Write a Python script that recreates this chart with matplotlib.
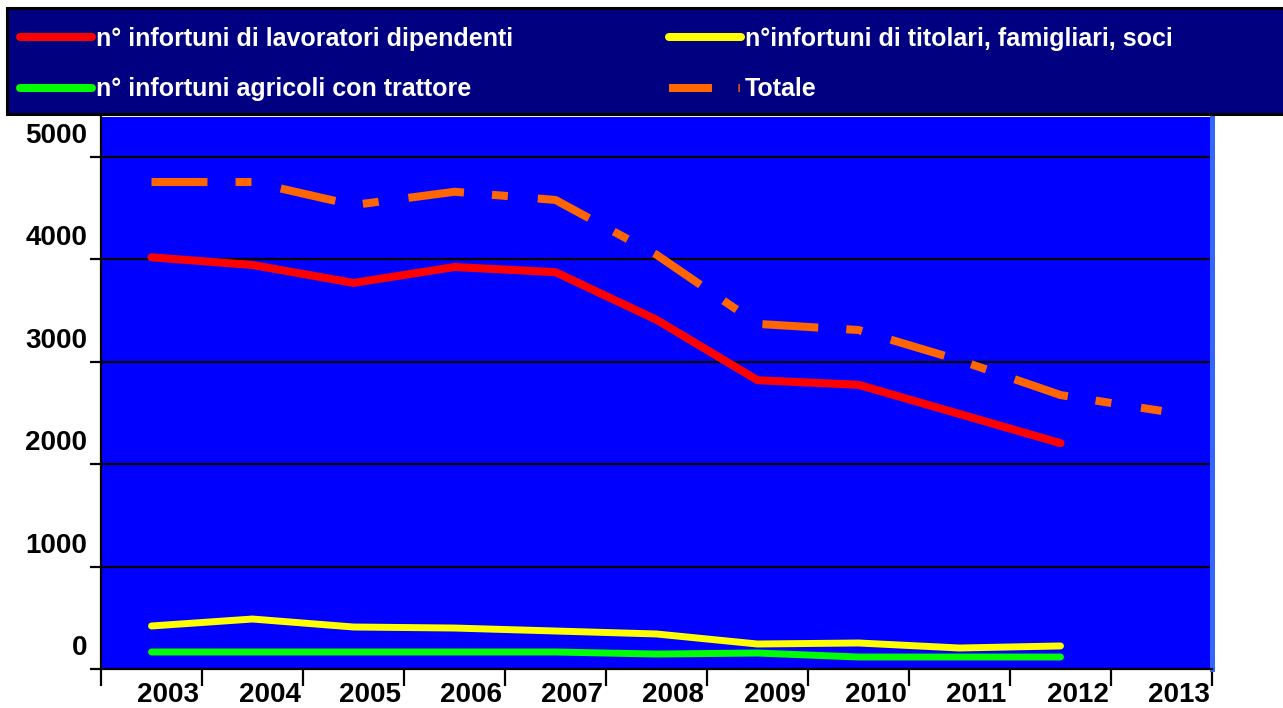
import numpy as np
import matplotlib
matplotlib.use('Agg')
import matplotlib.pyplot as plt
from matplotlib.lines import Line2D
from matplotlib.patches import Rectangle

# ── data ──────────────────────────────────────────────────────────────────────
years      = ['2003', '2004', '2005', '2006', '2007', '2008',
              '2009', '2010', '2011', '2012', '2013']
dipendenti = [4020, 3945, 3770, 3925, 3875, 3410, 2820, 2775, 2490, 2205]
titolari   = [420, 488, 410, 400, 371, 342, 244, 254, 205, 225]
trattore   = [166, 166, 166, 166, 166, 146, 156, 117, 117, 117]
totale     = [4755, 4755, 4530, 4660, 4580, 4045, 3370, 3310, 3015, 2675, 2520]

y_ticks  = [0, 1000, 2000, 3000, 4000, 5000]
y_labels = ['0', '1000', '2000', '3000', '4000', '5000']

# ── colours ───────────────────────────────────────────────────────────────────
BG_PLOT   = '#0000FF'
BG_LEGEND = '#000080'
RED       = '#FF0000'
YELLOW    = '#FFFF00'
GREEN     = '#00FF00'
ORANGE    = '#FF6600'
EDGE_LT   = '#3366FF'

plt.rcParams['lines.scale_dashes'] = False

fig = plt.figure(figsize=(12.83, 7.08), dpi=100)
ax = fig.add_axes([101 / 1283, 1 - 669 / 708, 1111 / 1283, 552 / 708])
ax.set_facecolor(BG_PLOT)

x = np.arange(len(years))
ax.plot(x[:10], dipendenti, color=RED, lw=5.8, solid_capstyle='round',
        solid_joinstyle='round', zorder=4)
ax.plot(x[:10], titolari, color=YELLOW, lw=5.0, solid_capstyle='round',
        solid_joinstyle='round', zorder=4)
ax.plot(x[:10], trattore, color=GREEN, lw=5.0, solid_capstyle='round',
        solid_joinstyle='round', zorder=4)
ax.plot(x, totale, color=ORANGE, lw=5.8, dashes=(40.3, 20.2, 11.5, 21.6),
        dash_capstyle='butt', zorder=4)

ax.set_xlim(-0.5, len(years) - 0.5)
ax.set_ylim(0, 5390)

# gridlines
for yv in y_ticks[1:]:
    ax.axhline(yv, color='black', lw=1.6, zorder=2)

# y ticks at values, labels shifted upward (as in the original)
ax.set_yticks(y_ticks)
ax.set_yticklabels([])
ax.set_yticks([v + 234 for v in y_ticks], minor=True)
ax.set_yticklabels(y_labels, minor=True)
ax.tick_params(axis='y', which='major', length=8, width=1.6, color='black')
ax.tick_params(axis='y', which='minor', length=0, pad=10,
               labelsize=20, labelcolor='black')

# x ticks at category boundaries, labels shifted right
ax.set_xticks(np.arange(-0.5, len(years), 1.0))
ax.set_xticklabels([])
ax.set_xticks(x + 0.168, minor=True)
ax.set_xticklabels(years, minor=True)
ax.tick_params(axis='x', which='major', length=12, width=1.6, color='black')
ax.tick_params(axis='x', which='minor', length=0, pad=9,
               labelsize=20, labelcolor='black')
for lab in ax.get_xticklabels(minor=True) + ax.get_yticklabels(minor=True):
    lab.set_fontweight('bold')
    lab.set_family('Liberation Sans')

ax.spines['top'].set_visible(False)
ax.spines['left'].set_color('black')
ax.spines['left'].set_linewidth(1.6)
ax.spines['bottom'].set_color('black')
ax.spines['bottom'].set_linewidth(1.6)
ax.spines['right'].set_color(EDGE_LT)
ax.spines['right'].set_linewidth(3.6)

# ── legend ────────────────────────────────────────────────────────────────────
fig.patches.append(Rectangle((7 / 1283, 1 - 114 / 708), 1.0, 106 / 708,
                             transform=fig.transFigure, facecolor=BG_LEGEND,
                             edgecolor='black', lw=2.2, zorder=1))

handles = [
    Line2D([], [], color=RED, lw=5.8, solid_capstyle='round'),
    Line2D([], [], color=GREEN, lw=5.8, solid_capstyle='round'),
    Line2D([], [], color=YELLOW, lw=5.8, solid_capstyle='round'),
    Line2D([], [], color=ORANGE, lw=5.8, dashes=(31, 19, 1, 30), dash_capstyle='butt'),
]
labels = ['n° infortuni di lavoratori dipendenti',
          'n° infortuni agricoli con trattore',
          'n°infortuni di titolari, famigliari, soci',
          'Totale']
leg = fig.legend(handles, labels, loc='upper left', ncol=2,
                 bbox_to_anchor=(20 / 1283, 1 - 27 / 708),
                 bbox_transform=fig.transFigure,
                 prop={'family': 'Liberation Sans', 'weight': 'bold', 'size': 18},
                 handlelength=2.9, handletextpad=0.16, labelspacing=1.05,
                 columnspacing=6.2, borderpad=0, borderaxespad=0,
                 frameon=False)
for t in leg.get_texts():
    t.set_color('white')

fig.savefig('out.png', dpi=100)
